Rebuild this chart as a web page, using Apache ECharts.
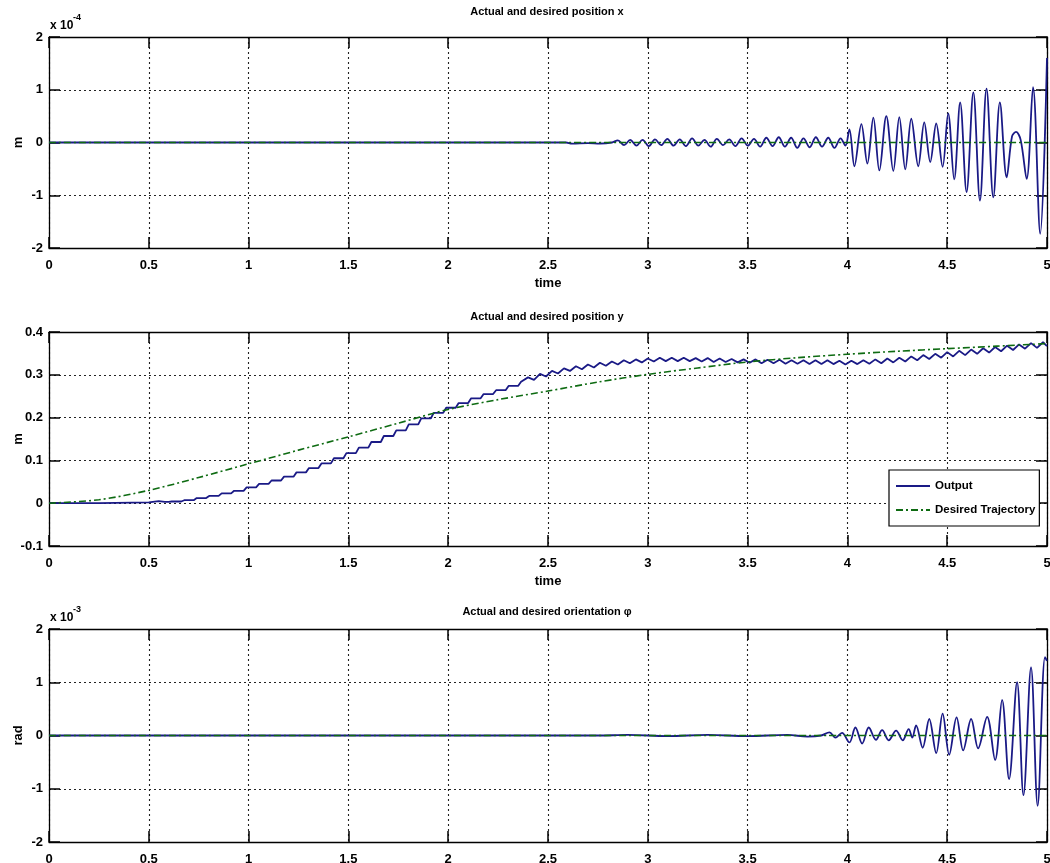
<!DOCTYPE html>
<html><head><meta charset="utf-8">
<script src="https://cdn.jsdelivr.net/npm/echarts@6/dist/echarts.min.js"></script>
<style>html,body{margin:0;padding:0;background:#fff}#c{width:1050px;height:863px}</style>
</head><body><div id="c"></div>
<script>
const FONT = '"Liberation Sans Narrow","Arial Narrow","Liberation Sans",Arial,sans-serif';
const titles = ['Actual and desired position x', 'Actual and desired position y', 'Actual and desired orientation \u03c6'];
const yNames = ['m', 'm', 'rad'];
const xNames = ['time', 'time', ''];
const yRanges = [[-2, 2, 1], [-0.1, 0.4, 0.1], [-2, 2, 1]];
const exponents = ['-4', null, '-3'];
const legendNames = ['Output', 'Desired Trajectory'];

// position x, values in units of 1e-4 m
const posXOutput = [[0,0],[2.59,0],[2.62,-0.02],[2.70,-0.01],[2.76,-0.02],[2.82,0],
[2.85,0.04],[2.881,-0.05],[2.912,0.05],[2.943,-0.06],[2.974,0.05],[3.005,-0.07],[3.036,0.06],[3.067,-0.05],[3.098,0.07],[3.129,-0.06],[3.16,0.06],[3.191,-0.07],[3.222,0.08],[3.253,-0.06],[3.284,0.05],[3.315,-0.08],[3.346,0.07],[3.377,-0.05],[3.408,0.06],[3.439,-0.07],[3.47,0.08],[3.501,-0.06],[3.532,0.07],[3.563,-0.08],[3.594,0.09],[3.625,-0.07],[3.656,0.1],[3.687,-0.08],[3.718,0.09],[3.749,-0.1],[3.78,0.08],[3.811,-0.09],[3.842,0.1],[3.873,-0.08],[3.904,0.09],[3.935,-0.1],[3.966,0.08],[3.99,-0.06],
[4.01,0.25],[4.035,-0.45],[4.07,0.35],[4.1,-0.4],[4.13,0.47],[4.16,-0.53],[4.195,0.5],[4.23,-0.54],[4.26,0.48],[4.29,-0.51],[4.32,0.45],[4.355,-0.45],[4.385,0.38],[4.415,-0.37],[4.445,0.36],[4.477,-0.46],[4.505,0.55],[4.535,-0.7],[4.565,0.76],[4.597,-0.94],[4.631,0.95],[4.664,-1.1],[4.697,1.02],[4.731,-1.04],[4.764,0.76],[4.798,-0.66],[4.825,0.12],[4.845,0.2],[4.868,0.05],[4.898,-0.69],[4.93,1.05],[4.966,-1.73],[5,1.6]];
const posXDesired = [[0,0],[5,0]];

// position y, m (staircase rise, then ripple)
const posYOutput = [[0,0],[0.25,0],[0.5,0.002],[0.55,0.005],[0.58,0.003],
[0.6,0.003],[0.615,0.004],[0.6625,0.004],[0.6775,0.007],[0.725,0.007],[0.74,0.012],[0.7875,0.012],[0.8025,0.017],[0.85,0.017],[0.865,0.023],[0.9125,0.023],[0.9275,0.029],[0.975,0.029],[0.99,0.037],[1.0375,0.037],[1.0525,0.045],[1.1,0.045],[1.115,0.053],[1.1625,0.053],[1.1775,0.062],[1.225,0.062],[1.24,0.072],[1.2875,0.072],[1.3025,0.082],[1.35,0.082],[1.365,0.093],[1.4125,0.093],[1.4275,0.105],[1.475,0.105],[1.49,0.117],[1.5375,0.117],[1.5525,0.13],[1.6,0.13],[1.615,0.143],[1.6625,0.143],[1.6775,0.157],[1.725,0.157],[1.74,0.17],[1.7875,0.17],[1.8025,0.184],[1.85,0.184],[1.865,0.198],[1.9125,0.198],[1.9275,0.211],[1.975,0.211],[1.99,0.223],[2.0375,0.223],[2.0525,0.234],[2.1,0.234],[2.115,0.245],[2.1625,0.245],[2.1775,0.255],[2.225,0.255],[2.24,0.264],[2.2875,0.264],[2.3025,0.274],[2.35,0.274],[2.365,0.284],
[2.40,0.294],[2.43,0.288],[2.46,0.302],[2.49,0.296],[2.52,0.309],[2.55,0.303],[2.58,0.315],[2.61,0.309],[2.64,0.320],[2.67,0.313],[2.70,0.324],[2.73,0.317],[2.76,0.328],[2.79,0.321],[2.82,0.331],[2.85,0.324],[2.88,0.334],[2.91,0.327],[2.94,0.336],[2.97,0.329],[3.00,0.338],[3.03,0.331],[3.06,0.340],[3.09,0.332],[3.12,0.340],[3.15,0.332],[3.18,0.340],[3.21,0.332],[3.24,0.339],[3.27,0.331],[3.30,0.339],[3.33,0.330],[3.36,0.338],[3.39,0.330],[3.42,0.337],[3.45,0.329],[3.48,0.336],[3.51,0.328],[3.54,0.336],[3.57,0.327],[3.60,0.335],[3.63,0.327],[3.66,0.335],[3.69,0.326],[3.72,0.334],[3.75,0.326],[3.78,0.334],[3.81,0.325],[3.84,0.334],[3.87,0.325],[3.90,0.334],[3.93,0.325],[3.96,0.333],[3.99,0.324],[4.02,0.333],[4.05,0.325],[4.08,0.334],[4.11,0.326],[4.14,0.336],[4.17,0.327],[4.20,0.338],[4.23,0.329],[4.26,0.340],[4.29,0.331],[4.32,0.343],[4.35,0.334],[4.38,0.346],[4.41,0.337],[4.44,0.349],[4.47,0.340],[4.50,0.353],[4.53,0.343],[4.56,0.356],[4.59,0.346],[4.62,0.359],[4.65,0.349],[4.68,0.362],[4.71,0.352],[4.74,0.365],[4.77,0.355],[4.80,0.368],[4.83,0.358],[4.86,0.371],[4.89,0.361],[4.92,0.374],[4.95,0.363],[4.98,0.376],[5.00,0.367]];
const posYDesired = [[0,0],[0.25,0.008],[0.5,0.03],[0.75,0.06],[1.0,0.092],[1.25,0.124],[1.5,0.155],[1.75,0.187],[2.0,0.219],[2.25,0.242],[2.5,0.262],[2.75,0.283],[3.0,0.301],[3.25,0.316],[3.5,0.33],[3.75,0.34],[4.0,0.348],[4.25,0.355],[4.5,0.361],[4.75,0.367],[5.0,0.373]];

// orientation phi, values in units of 1e-3 rad
const phiOutput = [[0,0],[2.75,0],[2.9,0.01],[3.1,-0.01],[3.3,0.01],[3.5,-0.01],[3.7,0.01],[3.8,-0.02],
[3.868,0],[3.91,0.06],[3.94,-0.04],[3.973,0.05],[4.01,-0.13],[4.04,0.15],[4.074,-0.15],[4.107,0.15],[4.143,-0.08],[4.174,0.1],[4.207,-0.09],[4.244,0.09],[4.277,-0.09],[4.307,0.12],[4.325,-0.04],[4.344,0.19],[4.377,-0.23],[4.41,0.31],[4.445,-0.33],[4.477,0.41],[4.51,-0.36],[4.547,0.34],[4.58,-0.28],[4.62,0.31],[4.655,-0.24],[4.70,0.35],[4.74,-0.46],[4.775,0.67],[4.81,-0.82],[4.85,1.0],[4.882,-1.12],[4.92,1.28],[4.953,-1.32],[4.99,1.47],[5,1.4]];
const phiDesired = [[0,0],[5,0]];

const outputs = [posXOutput, posYOutput, phiOutput];
const desireds = [posXDesired, posYDesired, phiDesired];
const outputSmooth = [0.35, false, 0.35];

const gridTops = [37, 332, 629];
const gridHeights = [211, 214, 213];
const titleY = [12, 317, 612];

const chart = echarts.init(document.getElementById('c'), null, {renderer: 'canvas'});
const grid = [], xAxis = [], yAxis = [], series = [], graphic = [];
const lab = {fontFamily: FONT, fontWeight: 'bold', fontSize: 13, color: '#000'};
const axLine = {show: true, onZero: false, lineStyle: {color: '#000', width: 1.3}};
const tick = {show: true, inside: true, length: 11, lineStyle: {color: '#000', width: 1.5}};
const gridLine = {show: true, lineStyle: {color: '#222', width: 1.1, type: [2, 3]}};

for (let i = 0; i < 3; i++) {
  grid.push({left: 49, right: 3, top: gridTops[i], height: gridHeights[i], containLabel: false, outerBoundsMode: 'none'});
  const [ymin, ymax, yint] = yRanges[i];
  xAxis.push({type: 'value', gridIndex: i, position: 'bottom', min: 0, max: 5, interval: 0.5,
    axisLine: axLine, axisTick: tick, splitLine: gridLine,
    axisLabel: Object.assign({margin: 11}, lab),
    name: xNames[i], nameLocation: 'middle', nameGap: 29,
    nameTextStyle: {fontFamily: FONT, fontWeight: 'bold', fontSize: 13, color: '#000'}});
  xAxis.push({type: 'value', gridIndex: i, position: 'top', min: 0, max: 5, interval: 0.5,
    axisLine: axLine, axisTick: tick, splitLine: {show: false}, axisLabel: {show: false}});
  yAxis.push({type: 'value', gridIndex: i, position: 'left', min: ymin, max: ymax, interval: yint,
    axisLine: axLine, axisTick: tick, splitLine: gridLine,
    axisLabel: Object.assign({margin: 6}, lab)});
  yAxis.push({type: 'value', gridIndex: i, position: 'right', min: ymin, max: ymax, interval: yint,
    axisLine: axLine, axisTick: tick, splitLine: {show: false}, axisLabel: {show: false}});
  series.push({name: legendNames[0], type: 'line', xAxisIndex: 2 * i, yAxisIndex: 2 * i,
    data: outputs[i], showSymbol: false, symbol: 'none', smooth: outputSmooth[i], z: 3,
    color: '#1a1a86', lineStyle: {color: '#1a1a86', width: 1.8}});
  series.push({name: legendNames[1], type: 'line', xAxisIndex: 2 * i, yAxisIndex: 2 * i,
    data: desireds[i], showSymbol: false, symbol: 'none', smooth: 0.3, z: 4,
    color: '#0e6b12', lineStyle: {color: '#0e6b12', width: 1.6, type: [7, 3, 2, 3]}});
  graphic.push({type: 'text', x: 547, y: titleY[i], style: {text: titles[i], fill: '#000',
    font: 'bold 11px ' + FONT, textAlign: 'center', textVerticalAlign: 'middle'}});
  graphic.push({type: 'text', x: 18, y: gridTops[i] + gridHeights[i] / 2, rotation: Math.PI / 2,
    style: {text: yNames[i], fill: '#000', font: 'bold 13px ' + FONT, textAlign: 'center', textVerticalAlign: 'middle'}});
  if (exponents[i]) {
    graphic.push({type: 'text', x: 50, y: gridTops[i] - 11, style: {text: 'x 10', fill: '#000',
      font: 'bold 12px ' + FONT, textAlign: 'left', textVerticalAlign: 'middle'}});
    graphic.push({type: 'text', x: 73, y: gridTops[i] - 19, style: {text: exponents[i], fill: '#000',
      font: 'bold 9px ' + FONT, textAlign: 'left', textVerticalAlign: 'middle'}});
  }
}

chart.setOption({
  backgroundColor: '#fff',
  animation: false,
  grid, xAxis, yAxis, series, graphic,
  legend: {data: legendNames, orient: 'vertical', left: 889, top: 470,
    backgroundColor: '#fff', borderColor: '#000', borderWidth: 1.2,
    padding: [10, 4, 10, 6], itemGap: 12, itemWidth: 34, itemHeight: 12,
    itemStyle: {opacity: 0},
    textStyle: {fontFamily: FONT, fontWeight: 'bold', fontSize: 11.5, color: '#000'}}
});
</script></body></html>
